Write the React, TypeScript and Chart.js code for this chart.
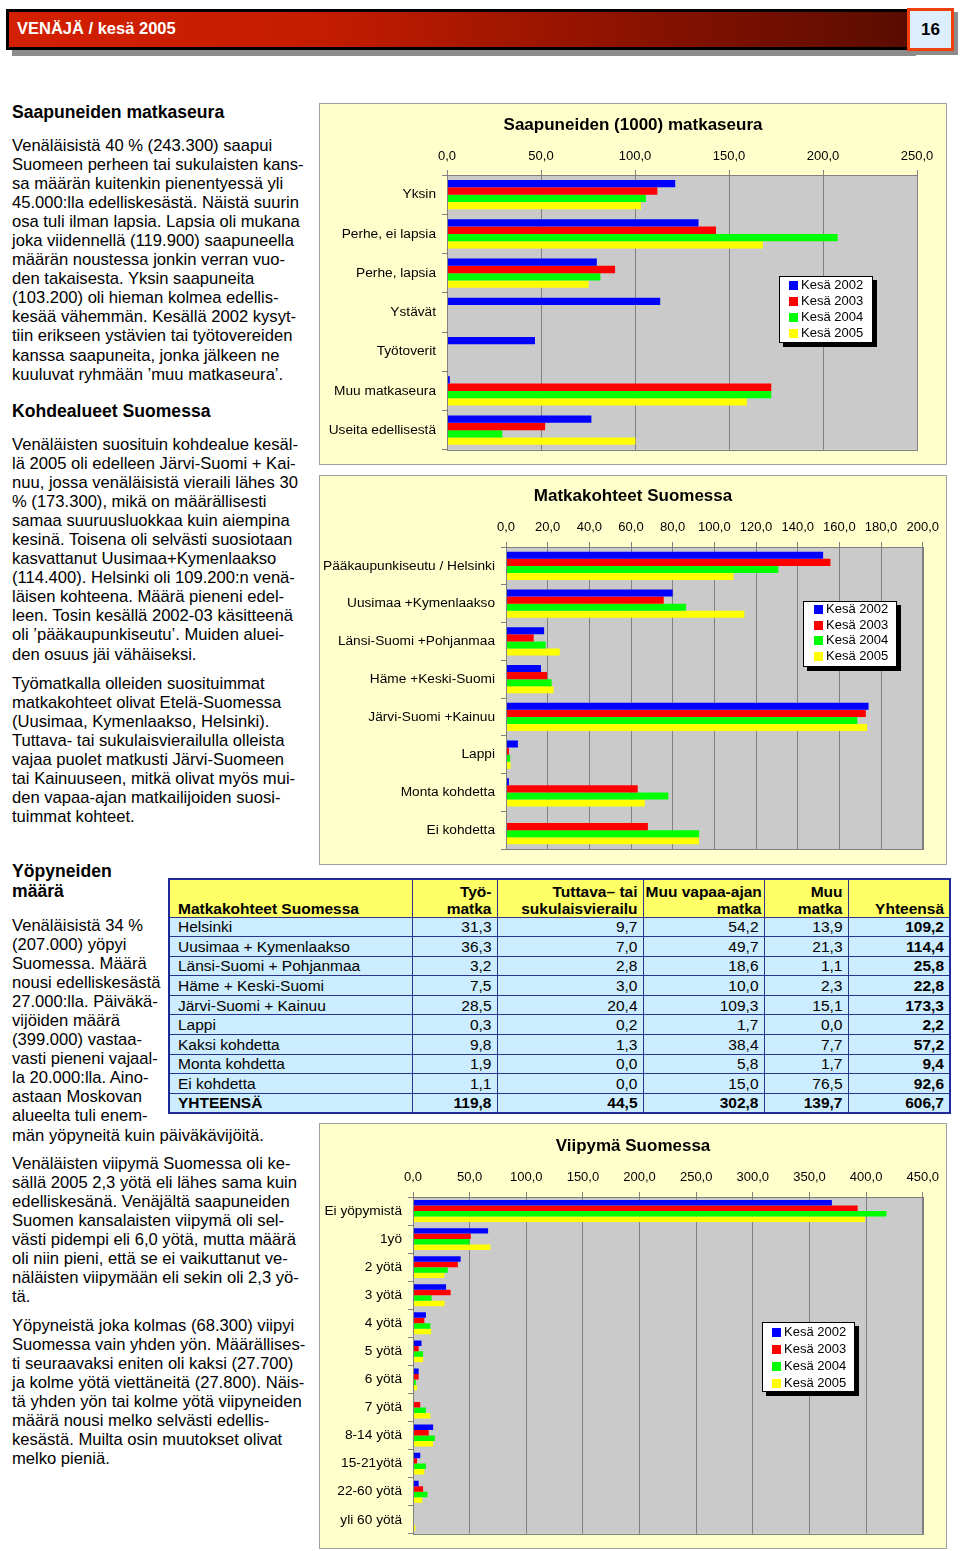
import React, { useEffect, useRef } from "react";
import { Chart, registerables } from "chart.js";

Chart.register(...registerables);

const FONT = "'Liberation Sans', Arial, sans-serif";

// ---------- data ----------
const seriesNames = ["Kesä 2002", "Kesä 2003", "Kesä 2004", "Kesä 2005"];
const seriesColors = ["#0000FF", "#FF0000", "#00FF00", "#FFFF00"];

const seuraCategories = ["Yksin", "Perhe, ei lapsia", "Perhe, lapsia", "Ystävät", "Työtoverit", "Muu matkaseura", "Useita edellisestä"];
const seura2002 = [121.4, 133.8, 79.7, 113.4, 46.8, 1.5, 76.8];
const seura2003 = [111.9, 143.1, 89.4, null, null, 172.5, 52.2];
const seura2004 = [105.8, 207.8, 81.6, null, null, 172.5, 29.4];
const seura2005 = [103.2, 168.0, 75.3, null, null, 159.5, 100.2];
const seuraMax = 250;
const seuraStep = 50;

const kohdeCategories = ["Pääkaupunkiseutu / Helsinki", "Uusimaa +Kymenlaakso", "Länsi-Suomi +Pohjanmaa", "Häme +Keski-Suomi", "Järvi-Suomi +Kainuu", "Lappi", "Monta kohdetta", "Ei kohdetta"];
const kohde2002 = [152.2, 80.0, 18.3, 16.8, 174.0, 5.7, 1.4, null];
const kohde2003 = [155.7, 75.7, 13.3, 19.7, 172.7, 1.4, 63.2, 68.1];
const kohde2004 = [130.7, 86.4, 19.1, 21.9, 168.6, 2.0, 77.9, 92.7];
const kohde2005 = [109.2, 114.4, 25.8, 22.8, 173.3, 2.2, 66.6, 92.6];
const kohdeMax = 200;
const kohdeStep = 20;

const viipymaCategories = ["Ei yöpymistä", "1yö", "2 yötä", "3 yötä", "4 yötä", "5 yötä", "6 yötä", "7 yötä", "8-14 yötä", "15-21yötä", "22-60 yötä", "yli 60 yötä"];
const viipyma2002 = [369.8, 66.3, 42.1, 29.2, 11.4, 7.5, 5.0, null, 17.8, 6.4, 5.0, null];
const viipyma2003 = [392.6, 51.0, 39.6, 33.2, 10.0, 5.0, 5.0, 6.4, 13.9, 3.6, 8.9, null];
const viipyma2004 = [418.0, 49.9, 30.7, 16.4, 15.3, 8.9, 2.5, 11.4, 19.3, 11.4, 12.8, null];
const viipyma2005 = [399.0, 68.3, 27.7, 27.8, 16.0, 8.9, 3.6, 15.3, 17.8, 10.0, 8.2, 2.1];
const viipymaMax = 450;
const viipymaStep = 50;

const tableHeader = ["Matkakohteet Suomessa", "Työ-\nmatka", "Tuttava– tai\nsukulaisvierailu", "Muu vapaa-ajan\nmatka", "Muu\nmatka", "Yhteensä"];
const tableRegions = ["Helsinki", "Uusimaa + Kymenlaakso", "Länsi-Suomi + Pohjanmaa", "Häme + Keski-Suomi", "Järvi-Suomi + Kainuu", "Lappi", "Kaksi kohdetta", "Monta kohdetta", "Ei kohdetta", "YHTEENSÄ"];
const tableTyo = ["31,3", "36,3", "3,2", "7,5", "28,5", "0,3", "9,8", "1,9", "1,1", "119,8"];
const tableTuttava = ["9,7", "7,0", "2,8", "3,0", "20,4", "0,2", "1,3", "0,0", "0,0", "44,5"];
const tableVapaa = ["54,2", "49,7", "18,6", "10,0", "109,3", "1,7", "38,4", "5,8", "15,0", "302,8"];
const tableMuu = ["13,9", "21,3", "1,1", "2,3", "15,1", "0,0", "7,7", "1,7", "76,5", "139,7"];
const tableYht = ["109,2", "114,4", "25,8", "22,8", "173,3", "2,2", "57,2", "9,4", "92,6", "606,7"];

// ---------- text ----------
const p1 = [
  "Venäläisistä 40 % (243.300) saapui",
  "Suomeen perheen tai sukulaisten kans-",
  "sa määrän kuitenkin pienentyessä yli",
  "45.000:lla edelliskesästä. Näistä suurin",
  "osa tuli ilman lapsia. Lapsia oli mukana",
  "joka viidennellä (119.900) saapuneella",
  "määrän noustessa jonkin verran vuo-",
  "den takaisesta. Yksin saapuneita",
  "(103.200) oli hieman kolmea edellis-",
  "kesää vähemmän. Kesällä 2002 kysyt-",
  "tiin erikseen ystävien tai työtovereiden",
  "kanssa saapuneita, jonka jälkeen ne",
  "kuuluvat ryhmään ’muu matkaseura’.",
];
const p2 = [
  "Venäläisten suosituin kohdealue kesäl-",
  "lä 2005 oli edelleen Järvi-Suomi + Kai-",
  "nuu, jossa venäläisistä vieraili lähes 30",
  "% (173.300), mikä on määrällisesti",
  "samaa suuruusluokkaa kuin aiempina",
  "kesinä. Toisena oli selvästi suosiotaan",
  "kasvattanut Uusimaa+Kymenlaakso",
  "(114.400). Helsinki oli 109.200:n venä-",
  "läisen kohteena. Määrä pieneni edel-",
  "leen. Tosin kesällä 2002-03 käsitteenä",
  "oli ’pääkaupunkiseutu’. Muiden aluei-",
  "den osuus jäi vähäiseksi.",
];
const p3 = [
  "Työmatkalla olleiden suosituimmat",
  "matkakohteet olivat Etelä-Suomessa",
  "(Uusimaa, Kymenlaakso, Helsinki).",
  "Tuttava- tai sukulaisvierailulla olleista",
  "vajaa puolet matkusti Järvi-Suomeen",
  "tai Kainuuseen, mitkä olivat myös mui-",
  "den vapaa-ajan matkailijoiden suosi-",
  "tuimmat kohteet.",
];
const p4 = [
  "Venäläisistä 34 %",
  "(207.000) yöpyi",
  "Suomessa. Määrä",
  "nousi edelliskesästä",
  "27.000:lla. Päiväkä-",
  "vijöiden määrä",
  "(399.000) vastaa-",
  "vasti pieneni vajaal-",
  "la 20.000:lla. Aino-",
  "astaan Moskovan",
  "alueelta tuli enem-",
  "män yöpyneitä kuin päiväkävijöitä.",
];
const p5 = [
  "Venäläisten viipymä Suomessa oli ke-",
  "sällä 2005 2,3 yötä eli lähes sama kuin",
  "edelliskesänä. Venäjältä saapuneiden",
  "Suomen kansalaisten viipymä oli sel-",
  "västi pidempi eli 6,0 yötä, mutta määrä",
  "oli niin pieni, että se ei vaikuttanut ve-",
  "näläisten viipymään eli sekin oli 2,3 yö-",
  "tä.",
];
const p6 = [
  "Yöpyneistä joka kolmas (68.300) viipyi",
  "Suomessa vain yhden yön. Määrällises-",
  "ti seuraavaksi eniten oli kaksi (27.700)",
  "ja kolme yötä viettäneitä (27.800). Näis-",
  "tä yhden yön tai kolme yötä viipyneiden",
  "määrä nousi melko selvästi edellis-",
  "kesästä. Muilta osin muutokset olivat",
  "melko pieniä.",
];

// ---------- chart helpers ----------
const plotBg = {
  id: "plotBg",
  beforeDraw(chart: any) {
    const { ctx, chartArea: a } = chart;
    ctx.save();
    ctx.fillStyle = "#CACACA";
    ctx.fillRect(a.left, a.top, a.right - a.left, a.bottom - a.top);
    ctx.restore();
  },
  afterDraw(chart: any) {
    const { ctx, chartArea: a } = chart;
    ctx.save();
    ctx.strokeStyle = "#808080";
    ctx.lineWidth = 1;
    ctx.strokeRect(Math.round(a.left) + 0.5, Math.round(a.top) + 0.5, Math.round(a.right - a.left), Math.round(a.bottom - a.top));
    const t = chart.options.plugins.centerTitle;
    if (t && t.text) {
      ctx.fillStyle = "#000";
      ctx.font = "bold 17px " + FONT;
      ctx.textAlign = "center";
      ctx.textBaseline = "middle";
      ctx.fillText(t.text, chart.width / 2, t.y);
    }
    ctx.restore();
  },
};

type PanelProps = {
  left: number; top: number; width: number; height: number;
  title: string; titleY: number;
  labels: string[]; series: (number | null)[][];
  max: number; step: number;
  plotLeft: number; plotRight: number; plotTop: number; plotBottom: number;
  tickPad: number; catPct: number;
  legend: { left: number; top: number; width: number; height: number; row: number; pad: number; off: number };
};

function Legend({ l }: { l: PanelProps["legend"] }) {
  return (
    <div style={{ position: "absolute", left: l.left, top: l.top, width: l.width, height: l.height, background: "#fff", border: "1px solid #000", boxShadow: "4px 4px 0 #000", boxSizing: "border-box", fontFamily: FONT, fontSize: 13 }}>
      {seriesNames.map((n, i) => (
        <div key={n} style={{ position: "absolute", left: l.pad, top: l.off + i * l.row, height: l.row, lineHeight: l.row + "px", whiteSpace: "nowrap" }}>
          <span style={{ display: "inline-block", width: 9, height: 9, background: seriesColors[i], marginRight: 3, verticalAlign: "-1px" }} />
          {n}
        </div>
      ))}
    </div>
  );
}

function BarPanel(p: PanelProps) {
  const ref = useRef<HTMLCanvasElement | null>(null);
  const cw = p.width - 2;
  const ch = p.height - 2;
  useEffect(() => {
    const chart = new Chart(ref.current as HTMLCanvasElement, {
      type: "bar",
      data: {
        labels: p.labels,
        datasets: p.series.map((d, i) => ({
          label: seriesNames[i],
          data: d as any,
          backgroundColor: seriesColors[i],
          borderWidth: 0,
          categoryPercentage: p.catPct,
          barPercentage: 1,
        })),
      },
      options: {
        indexAxis: "y",
        animation: false,
        responsive: false,
        maintainAspectRatio: false,
        layout: { padding: { left: 0, top: 0, right: cw - p.plotRight, bottom: ch - p.plotBottom } },
        plugins: {
          legend: { display: false },
          tooltip: { enabled: false },
          title: { display: false },
          centerTitle: { text: p.title, y: p.titleY },
        },
        scales: {
          x: {
            position: "top",
            min: 0,
            max: p.max,
            ticks: {
              stepSize: p.step,
              autoSkip: false,
              maxRotation: 0,
              color: "#000",
              padding: p.tickPad,
              font: { family: FONT, size: 13 },
              callback: (v: any) => Number(v).toFixed(1).replace(".", ","),
            },
            grid: { color: "#808080", tickLength: 5, tickColor: "#808080" },
            border: { color: "#808080" },
            afterFit: (s: any) => { s.height = p.plotTop; },
          },
          y: {
            ticks: { color: "#000", padding: 6, autoSkip: false, font: { family: FONT, size: 13.7 } },
            grid: { display: true, drawOnChartArea: false, tickLength: 5, color: "#808080", offset: true },
            border: { color: "#808080" },
            afterFit: (s: any) => { s.width = p.plotLeft; },
          },
        },
      } as any,
      plugins: [plotBg],
    });
    return () => chart.destroy();
  }, []);
  return (
    <>
      <div style={{ position: "absolute", left: p.left, top: p.top, width: p.width, height: p.height, background: "#FFFFCC", border: "1px solid #A0A0A0", boxSizing: "border-box" }}>
        <canvas ref={ref} width={cw} height={ch} style={{ display: "block", width: cw, height: ch }} />
      </div>
      <Legend l={p.legend} />
    </>
  );
}

function Para({ top, lines }: { top: number; lines: string[] }) {
  return (
    <div style={{ position: "absolute", left: 12, top, fontSize: 16.6, lineHeight: "19.1px", whiteSpace: "nowrap", color: "#000" }}>
      {lines.map((t, i) => <div key={i}>{t}</div>)}
    </div>
  );
}

function Heading({ top, lines }: { top: number; lines: string[] }) {
  return (
    <div style={{ position: "absolute", left: 12, top, fontSize: 17.6, fontWeight: "bold", lineHeight: "20px", whiteSpace: "nowrap", color: "#000" }}>
      {lines.map((t, i) => <div key={i}>{t}</div>)}
    </div>
  );
}

function DataTable() {
  const colW = [243, 85, 146, 121, 84, 102];
  const cols = [tableTyo, tableTuttava, tableVapaa, tableMuu, tableYht];
  const cell: React.CSSProperties = { border: "1px solid #2A3590", padding: "0 5px", whiteSpace: "nowrap", overflow: "visible" };
  return (
    <table style={{ position: "absolute", left: 168, top: 878, width: 781, borderCollapse: "collapse", border: "2px solid #1E2A9A", fontFamily: FONT, fontSize: 15.5, tableLayout: "fixed", lineHeight: "17px" }}>
      <colgroup>{colW.map((w, i) => <col key={i} style={{ width: w }} />)}</colgroup>
      <thead>
        <tr style={{ height: 38, background: "#FFFF66" }}>
          {tableHeader.map((h, i) => (
            <th key={i} style={{ ...cell, textAlign: i === 0 ? "left" : "right", verticalAlign: "bottom", fontWeight: "bold", padding: i === 0 ? "0 5px 0 8px" : i === 3 ? "0 2px" : "0 5px" }}>
              {h.split("\n").map((t, k) => <div key={k}>{t}</div>)}
            </th>
          ))}
        </tr>
      </thead>
      <tbody>
        {tableRegions.map((r, ri) => {
          const last = ri === tableRegions.length - 1;
          return (
            <tr key={r} style={{ height: 19.6, background: "#CCECFF" }}>
              <td style={{ ...cell, paddingLeft: 8, fontWeight: last ? "bold" : "normal" }}>{r}</td>
              {cols.map((c, ci) => (
                <td key={ci} style={{ ...cell, textAlign: "right", fontWeight: last || ci === 4 ? "bold" : "normal" }}>{c[ri]}</td>
              ))}
            </tr>
          );
        })}
      </tbody>
    </table>
  );
}

export default function App() {
  return (
    <div style={{ position: "absolute", left: 0, top: 0, width: 960, height: 1551, background: "#fff", fontFamily: FONT, overflow: "hidden" }}>
      {/* header */}
      <div style={{ position: "absolute", left: 6, top: 9, width: 904, height: 41, border: "3px solid #000", boxSizing: "border-box", background: "linear-gradient(to right, #D42000 0%, #C41C00 35%, #8A1200 70%, #5A0C00 100%)", boxShadow: "6px 6px 0 #8C8C8C" }}>
        <div style={{ position: "absolute", left: 8, top: 7, color: "#fff", fontWeight: "bold", fontSize: 16.5, whiteSpace: "nowrap" }}>VENÄJÄ / kesä 2005</div>
      </div>
      <div style={{ position: "absolute", left: 907, top: 8, width: 47, height: 43, border: "3px solid #F04010", boxSizing: "border-box", background: "#DDEEFF", boxShadow: "4px 4px 0 #8C8C8C", textAlign: "center", fontWeight: "bold", fontSize: 17, lineHeight: "37px" }}>16</div>

      {/* left text */}
      <Heading top={102} lines={["Saapuneiden matkaseura"]} />
      <Para top={135.5} lines={p1} />
      <Heading top={401} lines={["Kohdealueet Suomessa"]} />
      <Para top={434.5} lines={p2} />
      <Para top={673.5} lines={p3} />
      <Heading top={861} lines={["Yöpyneiden", "määrä"]} />
      <Para top={915.5} lines={p4} />
      <Para top={1153.5} lines={p5} />
      <Para top={1315.5} lines={p6} />

      <BarPanel
        left={319} top={103} width={628} height={362}
        title="Saapuneiden (1000) matkaseura" titleY={21}
        labels={seuraCategories} series={[seura2002, seura2003, seura2004, seura2005]}
        max={seuraMax} step={seuraStep}
        plotLeft={127} plotRight={597} plotTop={71} plotBottom={347}
        tickPad={6} catPct={0.75}
        legend={{ left: 779, top: 276, width: 94, height: 67, row: 16, pad: 9, off: 0 }}
      />
      <BarPanel
        left={319} top={475} width={628} height={390}
        title="Matkakohteet Suomessa" titleY={20}
        labels={kohdeCategories} series={[kohde2002, kohde2003, kohde2004, kohde2005]}
        max={kohdeMax} step={kohdeStep}
        plotLeft={186} plotRight={606} plotTop={71} plotBottom={373}
        tickPad={7} catPct={0.75}
        legend={{ left: 803, top: 601, width: 94, height: 66, row: 15.7, pad: 10, off: -1 }}
      />
      <DataTable />
      <BarPanel
        left={319} top={1123} width={628} height={426}
        title="Viipymä Suomessa" titleY={22}
        labels={viipymaCategories} series={[viipyma2002, viipyma2003, viipyma2004, viipyma2005]}
        max={viipymaMax} step={viipymaStep}
        plotLeft={93} plotRight={608} plotTop={73} plotBottom={411}
        tickPad={7} catPct={0.78}
        legend={{ left: 762, top: 1322, width: 93, height: 70, row: 17, pad: 9, off: 0 }}
      />
    </div>
  );
}
